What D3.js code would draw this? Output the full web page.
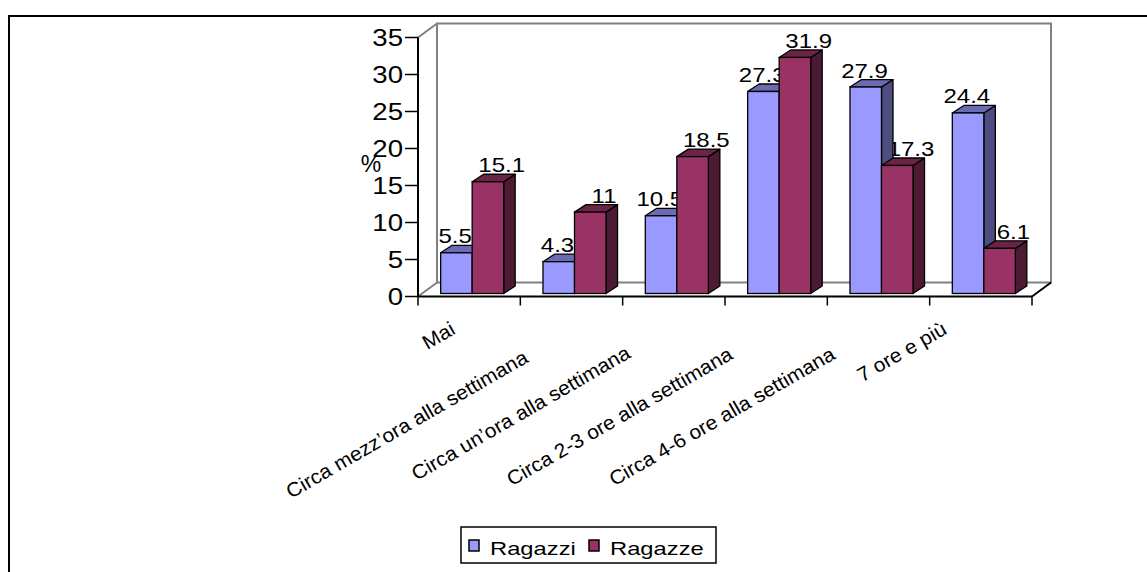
<!DOCTYPE html>
<html><head><meta charset="utf-8">
<script src="https://cdn.jsdelivr.net/npm/d3@7"></script>
<style>body{margin:0;background:#fff}svg{display:block}text{font-family:"Liberation Sans",Arial,sans-serif;fill:#000}</style>
</head><body><svg id="c" width="1147" height="572"></svg>
<script>
const categories = ["Mai","Circa mezz\u2019ora alla settimana","Circa un\u2019ora alla settimana","Circa 2-3 ore alla settimana","Circa 4-6 ore alla settimana","7 ore e pi\u00f9"];
const seriesNames = ["Ragazzi","Ragazze"];
const ragazzi = [5.5,4.3,10.5,27.3,27.9,24.4];
const ragazze = [15.1,11,18.5,31.9,17.3,6.1];
const yTicks = [0,5,10,15,20,25,30,35];
const yTitle = "%";

const colors = {
  Ragazzi: {front:"#9999FF", top:"#6B6BB3", side:"#4D4D80"},
  Ragazze: {front:"#993366", top:"#6B2447", side:"#4D1A33"}
};
const seriesValues = {Ragazzi: ragazzi, Ragazze: ragazze};

const svg = d3.select("#c");
// outer frame
svg.append("rect").attr("x",9).attr("y",16).attr("width",1200).attr("height",620)
  .attr("fill","#fff").attr("stroke","#000").attr("stroke-width",2);

const X0 = 418, X1 = 1032;
const y = d3.scaleLinear().domain([0,35]).range([296.5,37.5]);
const wall = {dx:19, dy:-14};
const barOff = {dx:3, dy:-3};
const barDepth = {dx:11.5, dy:-7.5};

const x0 = d3.scaleBand().domain(categories).range([X0,X1]).paddingInner(0.384).paddingOuter(0.192);
const x1 = d3.scaleBand().domain(seriesNames).range([0,x0.bandwidth()]);
const step = x0.step();

const grey = "#808080";
const g = svg.append("g");
// back wall
g.append("rect").attr("x",X0+wall.dx).attr("y",y(35)+wall.dy)
  .attr("width",X1-X0).attr("height",y(0)-y(35))
  .attr("fill","#fff").attr("stroke",grey).attr("stroke-width",2);
// left wall edges
g.append("line").attr("x1",X0).attr("y1",y(35)).attr("x2",X0+wall.dx).attr("y2",y(35)+wall.dy).attr("stroke",grey).attr("stroke-width",2);
g.append("line").attr("x1",X0).attr("y1",y(0)).attr("x2",X0+wall.dx).attr("y2",y(0)+wall.dy).attr("stroke",grey).attr("stroke-width",2);
// floor right edge
g.append("line").attr("x1",X1).attr("y1",y(0)).attr("x2",X1+wall.dx).attr("y2",y(0)+wall.dy).attr("stroke","#000").attr("stroke-width",2);

function stext(parent, x, yy, str, size, sx, anchor){
  return parent.append("text").attr("transform",`translate(${x},${yy}) scale(${sx},1)`)
    .attr("text-anchor",anchor).attr("font-size",size).text(str);
}

// y axis
g.append("line").attr("x1",X0).attr("x2",X0).attr("y1",y(0)).attr("y2",y(35)).attr("stroke","#000").attr("stroke-width",2);
yTicks.forEach(t=>{
  g.append("line").attr("x1",X0-13).attr("x2",X0).attr("y1",y(t)).attr("y2",y(t)).attr("stroke","#000").attr("stroke-width",1.5);
  stext(g, X0-15, y(t)+8.2, String(t), 23, 1.2, "end");
});
stext(g, 371, 172, yTitle, 23, 1.0, "middle");

// x axis
g.append("line").attr("x1",X0).attr("x2",X1).attr("y1",y(0)).attr("y2",y(0)).attr("stroke","#000").attr("stroke-width",2);
d3.range(categories.length+1).forEach(i=>{
  const xx = X0 + i*step;
  g.append("line").attr("x1",xx).attr("x2",xx).attr("y1",y(0)).attr("y2",y(0)+9).attr("stroke","#000").attr("stroke-width",1.5);
});

// bars data
const bars = [];
categories.forEach((c,i)=>{
  seriesNames.forEach((s,j)=>{
    const v = seriesValues[s][i];
    const xl = x0(c) + x1(s) + barOff.dx;
    const xr = xl + x1.bandwidth();
    const yt = y(v) + barOff.dy;
    const yb = y(0) + barOff.dy;
    bars.push({c,s,i,j,v,xl,xr,yt,yb});
  });
});

// labels (behind bars)
const labelShift = {Ragazzi:-7, Ragazze:8};
bars.forEach(b=>{
  const cx = (b.xl+b.xr)/2 + barDepth.dx/2 + labelShift[b.s];
  stext(g, cx, b.yt + barDepth.dy - 2, String(b.v), 20, 1.2, "middle");
});

// bars
const stroke = "#000", sw = 1.3;
bars.forEach(b=>{
  const col = colors[b.s];
  const d = barDepth;
  g.append("path").attr("d",`M${b.xr},${b.yb}L${b.xr+d.dx},${b.yb+d.dy}L${b.xr+d.dx},${b.yt+d.dy}L${b.xr},${b.yt}Z`)
    .attr("fill",col.side).attr("stroke",stroke).attr("stroke-width",sw).attr("stroke-linejoin","round");
  g.append("path").attr("d",`M${b.xl},${b.yt}L${b.xl+d.dx},${b.yt+d.dy}L${b.xr+d.dx},${b.yt+d.dy}L${b.xr},${b.yt}Z`)
    .attr("fill",col.top).attr("stroke",stroke).attr("stroke-width",sw).attr("stroke-linejoin","round");
  g.append("rect").attr("x",b.xl).attr("y",b.yt).attr("width",b.xr-b.xl).attr("height",b.yb-b.yt)
    .attr("fill",col.front).attr("stroke",stroke).attr("stroke-width",sw);
});

// category labels (rotated, anchored at their end)
categories.forEach((c,i)=>{
  const cx = X0 + (i+0.5)*step;
  const t = g.append("text").attr("text-anchor","end").attr("font-size",20).text(c);
  const L = t.node().getComputedTextLength()*1.05;
  const ex = cx - Math.min(42, 2 + 0.31*L);
  const ey = 333 + Math.max(0, (L-106)*0.167);
  t.attr("transform",`translate(${ex},${ey}) rotate(-30) scale(1.05,1)`);
});

// legend
const lg = svg.append("g");
lg.append("rect").attr("x",461).attr("y",527).attr("width",255).attr("height",36)
  .attr("fill","#fff").attr("stroke","#000").attr("stroke-width",1.5);
const legX = [469, 589];
seriesNames.forEach((s,j)=>{
  lg.append("rect").attr("x",legX[j]).attr("y",540).attr("width",10).attr("height",11)
    .attr("fill",colors[s].front).attr("stroke","#000").attr("stroke-width",1.5);
  stext(lg, legX[j]+21, 555, s, 19, 1.25, "start");
});
</script>
</body></html>
